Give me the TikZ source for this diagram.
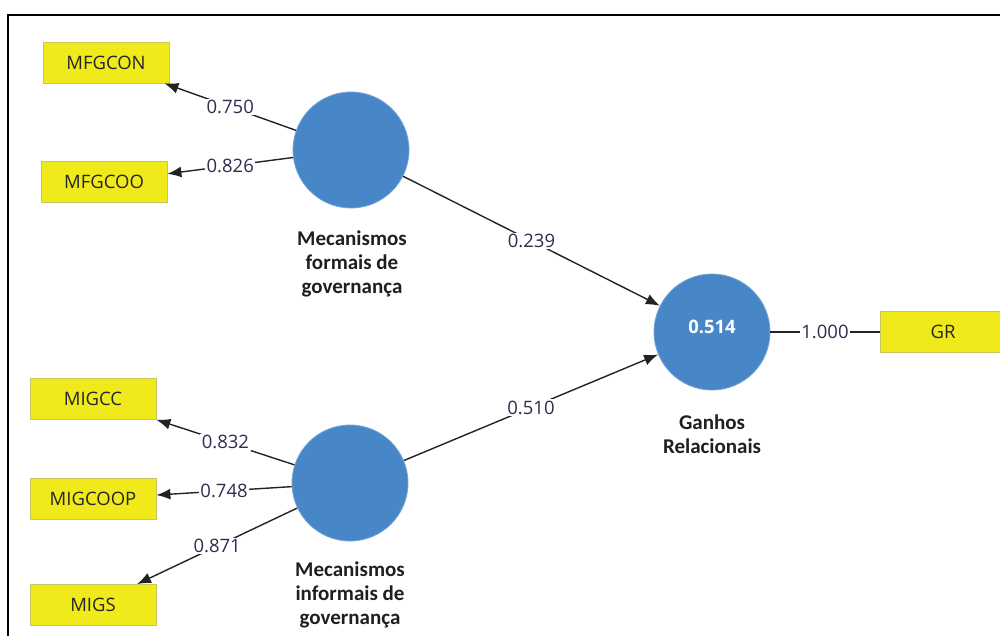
\documentclass[tikz,border=0pt]{standalone}
\usepackage{fontspec}
\setmainfont{Open Sans}
\newfontfamily\labelfont{Carlito}
\usetikzlibrary{arrows.meta}
\definecolor{lvblue}{RGB}{72,135,199}
\definecolor{indyellow}{RGB}{241,234,26}
\definecolor{indborder}{RGB}{200,196,95}
\definecolor{coeftext}{RGB}{48,44,78}
\definecolor{edgegray}{RGB}{35,35,35}

\begin{document}
\begin{tikzpicture}[x=1pt,y=-1pt,
  latent/.style={circle,fill=lvblue,draw=lvblue!75!white,line width=0.8pt,minimum size=116pt,inner sep=0pt},
  indicator/.style={rectangle,fill=indyellow,draw=indborder,line width=0.8pt,minimum width=126pt,minimum height=41pt,inner sep=0pt,font=\fontsize{18.5}{22}\selectfont,text=black!85},
  lvname/.style={align=center,font=\labelfont\bfseries\fontsize{21}{24}\selectfont,text=black!88},
  loading/.style={draw=edgegray,line width=1.4pt,-{Latex[length=14pt,width=11pt]}},
  plainedge/.style={draw=edgegray,line width=1.4pt},
  coef/.style={fill=white,inner sep=1.5pt,font=\fontsize{18.5}{22}\selectfont,text=coeftext},
]
\useasboundingbox (0,0) rectangle (1000,635);

% frame
\draw[line width=1.5pt] (8,636) -- (8,15) -- (1001,15);

% latent variables
\node[latent] (mfg) at (351,150) {};
\node[latent] (mig) at (350,483) {};
\node[latent] (gr) at (712,332) {};
\node[text=white,font=\bfseries\fontsize{18.5}{22}\selectfont] (grr2) at (712,327) {0.514};

% latent variable names
\node[lvname] (mfgname) at (352,264) {Mecanismos\\formais de\\governança};
\node[lvname] (migname) at (350,595) {Mecanismos\\informais de\\governança};
\node[lvname] (grname) at (712,434) {Ganhos\\Relacionais};

% indicators
\node[indicator] (mfgcon) at (106,62.5) {MFGCON};
\node[indicator] (mfgcoo) at (104,182) {MFGCOO};
\node[indicator] (migcc) at (93,399) {MIGCC};
\node[indicator] (migcoop) at (93,499) {MIGCOOP};
\node[indicator] (migs) at (93,605) {MIGS};
\node[indicator] (grind) at (943,332) {GR};

% outer loadings
\draw[loading] (mfg) -- node[coef] {0.750} (mfgcon);
\draw[loading] (mfg) -- node[coef] {0.826} (mfgcoo);
\draw[loading] (mig) -- node[coef] {0.832} (migcc);
\draw[loading] (mig) -- node[coef] {0.748} (migcoop);
\draw[loading] (mig) -- node[coef] {0.871} (migs);
\draw[plainedge] (gr) -- node[coef] {1.000} (grind);

% path coefficients
\draw[loading] (mfg) -- node[coef] {0.239} (gr);
\draw[loading] (mig) -- node[coef] {0.510} (gr);
\end{tikzpicture}
\end{document}
